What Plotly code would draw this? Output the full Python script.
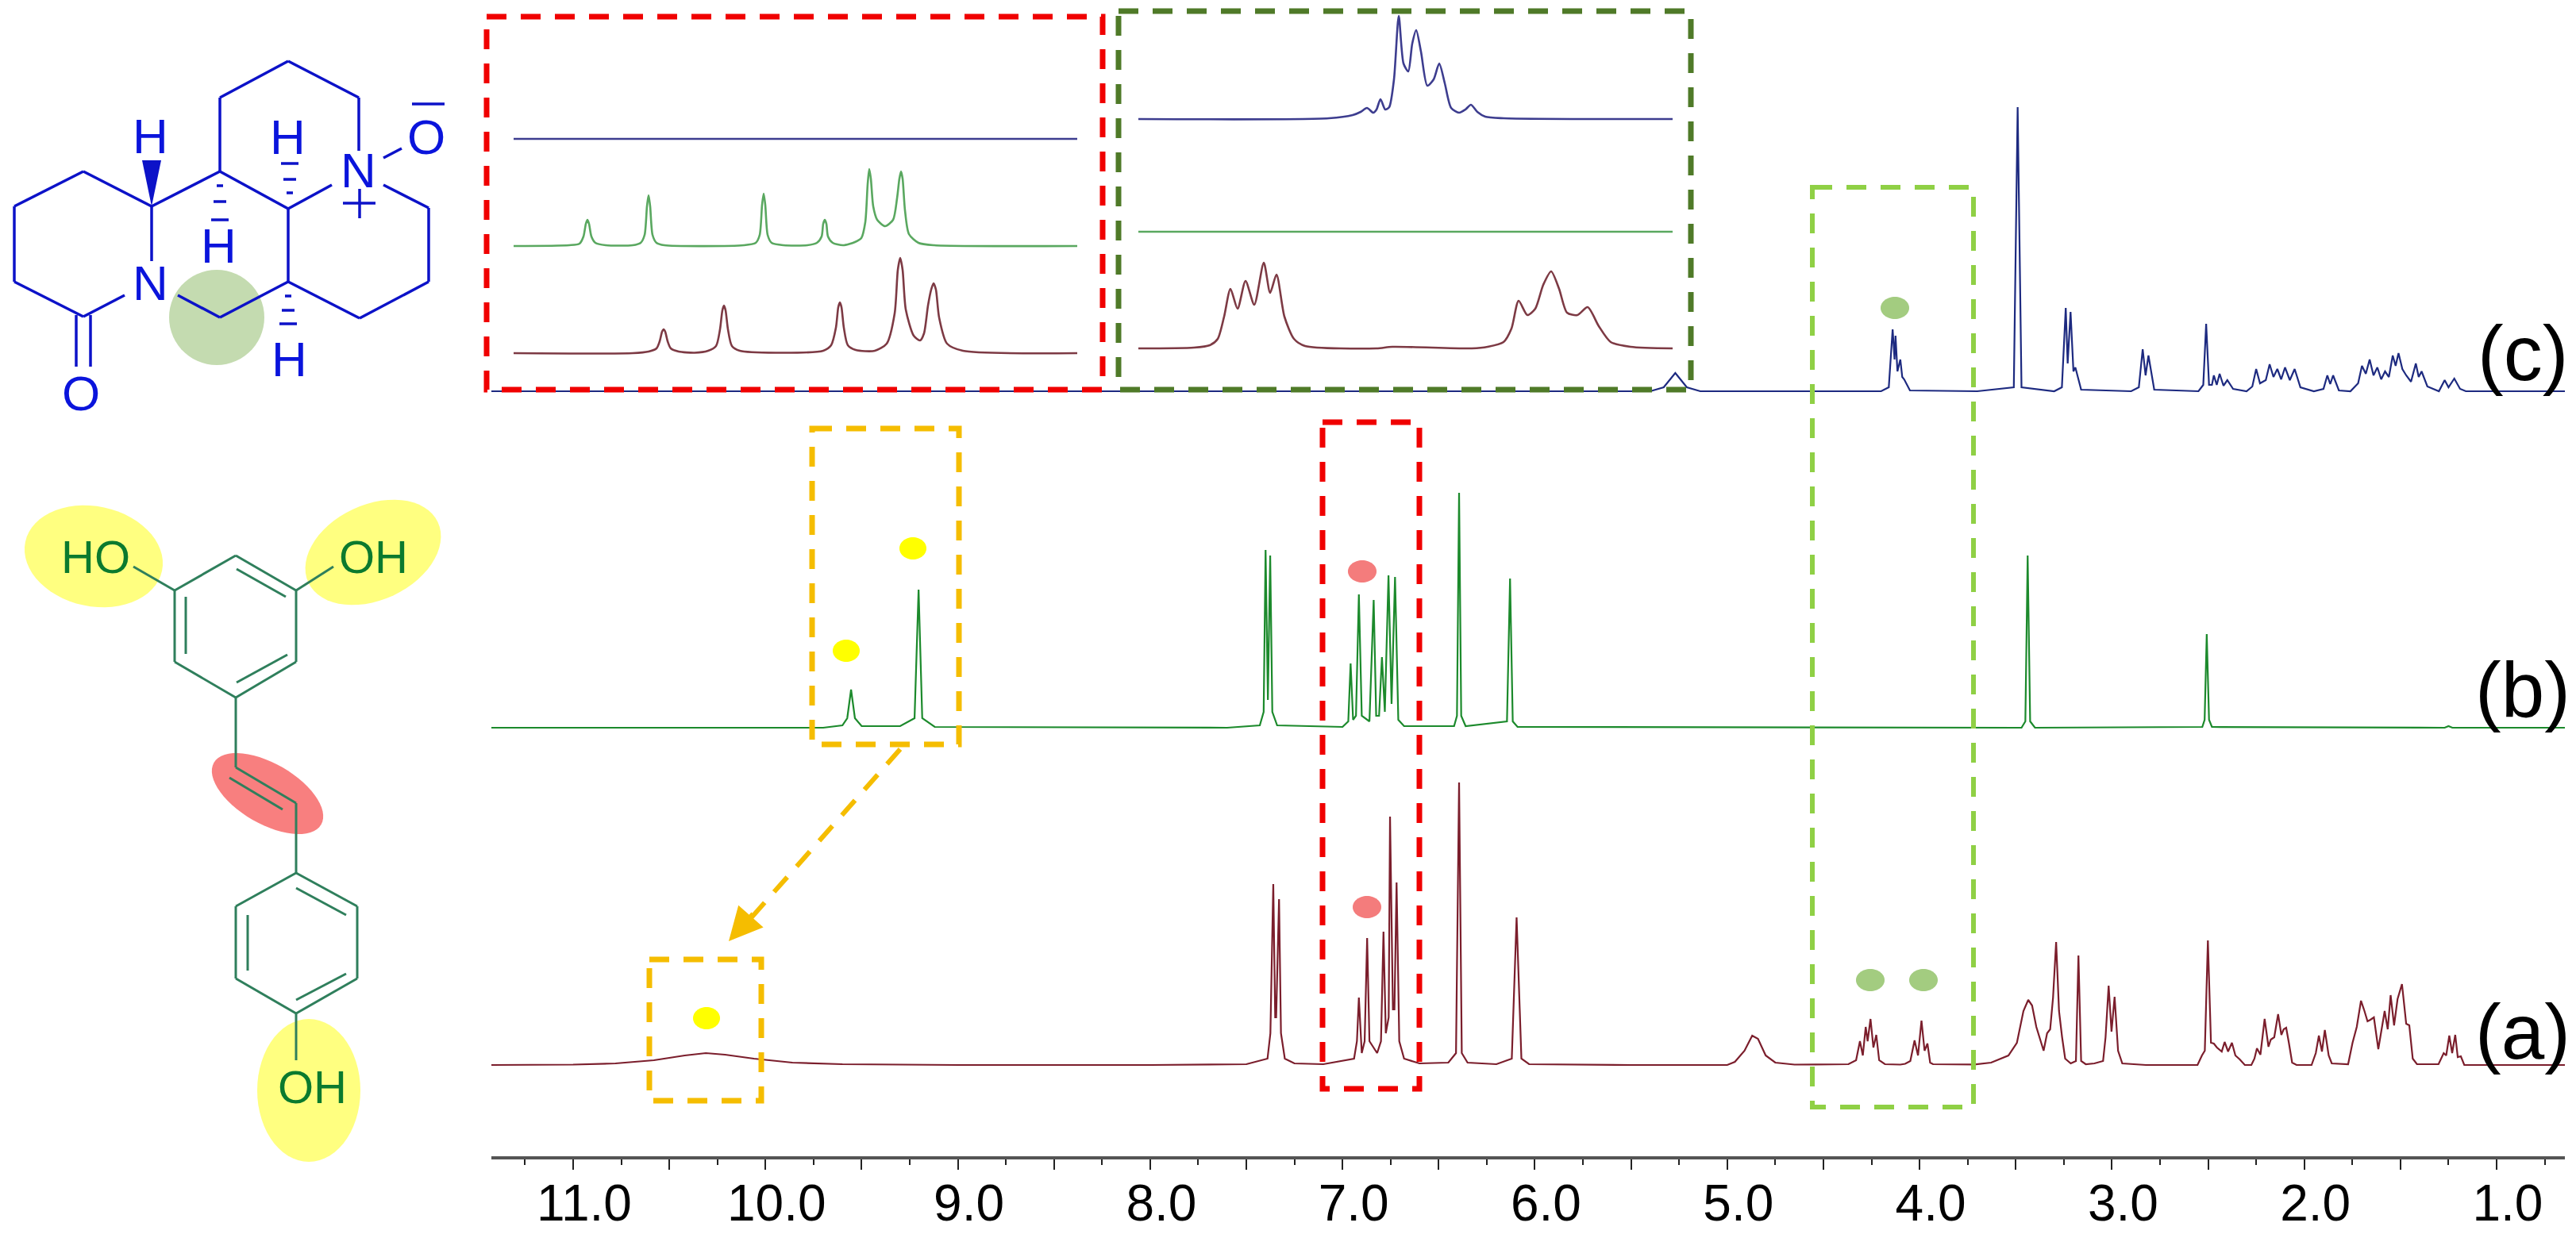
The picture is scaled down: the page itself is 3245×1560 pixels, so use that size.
import numpy as np
import plotly.graph_objects as go

W, H = 3245, 1560

# ---------- data: main spectra (ppm, intensity above own baseline) ----------
a_ppm = [11.43,11.0,10.78,10.58,10.42,10.31,10.21,10.06,9.86,9.6,9.0,8.0,7.5,
         7.39,7.375,7.36,7.35,7.345,7.33,7.32,7.30,7.25,7.1,
         6.94,6.925,6.915,6.90,6.885,6.872,6.86,6.82,6.80,6.787,6.775,6.76,6.753,6.738,6.73,6.719,6.705,6.68,6.6,6.45,
         6.41,6.394,6.38,6.35,6.2,6.12,6.095,6.07,6.03,5.5,5.0,4.96,4.91,4.87,4.84,4.80,4.75,4.65,
         4.37,4.33,4.31,4.295,4.28,4.27,4.255,4.24,4.225,4.21,4.18,4.10,
         4.075,4.048,4.026,4.008,3.990,3.974,3.959,3.945,3.930,3.715,3.628,3.538,3.494,3.460,3.435,3.415,3.393,3.355,
         3.337,3.321,3.306,3.290,3.275,3.259,3.243,3.214,3.187,3.174,3.160,3.136,3.091,3.046,3.033,3.017,3.002,2.986,
         2.968,2.946,2.823,2.555,2.532,2.517,2.501,2.485,2.470,2.454,2.429,2.414,2.396,2.376,2.358,2.335,2.309,2.275,
         2.259,2.246,2.228,2.206,2.186,2.174,2.156,2.136,2.119,2.107,2.094,2.080,2.063,2.040,1.962,1.940,1.924,1.908,
         1.893,1.873,1.857,1.772,1.749,1.727,1.705,1.687,1.671,1.656,1.638,1.615,1.582,1.566,1.551,1.533,1.515,1.492,
         1.470,1.454,1.436,1.414,1.302,1.275,1.262,1.246,1.231,1.215,1.202,1.186,1.168,0.62]
a_int = [0,0.5,2,6,12,15,13,8,3,1,0,0,1,
         8,40,228,60,60,209,40,8,2,1,
         8,30,85,15,30,160,30,15,30,168,40,60,313,70,70,230,30,8,2,3,
         15,356,15,3,1,8,186,8,1,0,0,4,18,37,33,12,3,0.5,
         1,6,30,12,48,30,58,22,38,6,1,0.5,
         1.5,5,31,12,56,18,27,3,1,0.7,3,12,28,68,82,75,48,18,
         40,45,85,155,68,35,8,2,5,138,5,1,2,5,35,100,42,86,
         18,2,0,0,12,18,157,28,27,22,17,29,17,28,12,7,0,0,
         8,21,13,58,23,32,35,64,38,45,47,28,3,0,0,15,37,17,
         44,12,2,1,28,48,81,68,55,57,60,20,68,45,88,50,83,102,
         52,50,8,1,1,15,12,37,15,38,10,11,0,0]

b_ppm = [11.43,9.7,9.6,9.575,9.555,9.535,9.50,9.3,9.225,9.204,9.185,9.12,7.6,
         7.43,7.41,7.40,7.388,7.376,7.365,7.34,7.0,6.97,6.958,6.945,6.93,6.915,6.90,6.86,6.838,6.825,6.81,6.795,6.78,
         6.761,6.745,6.727,6.71,6.68,6.42,6.405,6.394,6.383,6.36,6.145,6.129,6.115,6.09,3.47,3.45,3.438,3.425,3.4,
         2.53,2.518,2.507,2.495,2.48,1.27,1.25,1.23,0.62]
b_int = [0,0,3,12,48,12,2,2,12,174,12,1,0,
         3,20,224,35,217,20,3,1,8,81,10,15,168,15,8,161,15,15,89,20,
         192,30,190,10,2,2,15,296,15,2,8,188,8,1,0,8,217,8,0,
         1,10,118,10,1,0,2,0,0]

c_ppm = [11.43,5.40,5.33,5.29,5.27,5.25,5.21,5.14,4.2,4.16,4.14,4.13,4.125,4.115,4.10,4.09,4.08,4.05,3.7,3.51,3.49,3.47,
         3.3,3.26,3.24,3.23,3.215,3.20,3.19,3.16,2.9,2.86,2.84,2.825,2.81,2.78,2.55,2.525,2.51,2.495,2.48,2.47,2.455,2.44,
         2.42,2.40,2.37,2.30,2.27,2.25,2.23,2.20,2.18,2.16,2.14,2.12,2.10,2.075,2.05,2.02,1.95,1.90,1.88,1.865,1.85,1.82,
         1.76,1.72,1.70,1.68,1.66,1.64,1.62,1.60,1.58,1.56,1.54,1.525,1.51,1.49,1.47,1.445,1.42,1.405,1.39,1.36,1.30,
         1.27,1.25,1.22,1.19,1.16,0.62]
c_int = [0,0,5,17,23,17,5,0,0,5,78,40,70,25,40,18,15,1,0,5,358,5,
         0,5,105,35,100,25,30,2,0,5,53,20,45,2,0,8,85,8,8,20,8,22,
         7,14,3,0,6,28,10,14,34,18,28,15,30,14,28,5,0,3,20,9,20,1,
         0,10,32,22,40,20,30,15,25,18,45,32,48,28,20,12,35,18,25,6,0,
         14,5,16,3,0,0]

# ---------- data: expanded insets (offset along the inset, intensity) ----------
r_brown_x = [0,150,170,180,184,187,189,191,194,198,208,228,245,255,260,263,265,267,270,275,285,330,
             390,400,406,409,411,413,416,421,431,455,470,480,484,487,490,494,504,512,517,522,526,529,532,536,546,566,710]
r_brown_y = [0,0,2,6,15,27,30,27,15,6,2,0.5,3,9,30,54,60,54,30,9,3,0.5,
             3,10,32,58,64,58,32,10,4,3,12,50,105,120,105,55,22,16,25,60,80,88,80,45,12,3,0]
r_green_x = [0,70,83,88,91,93,95,98,103,116,150,160,165,168,170,172,175,180,190,
             290,305,310,313,315,317,320,325,340,370,382,388,390,392,394,396,402,415,
             430,438,443,446,448,450,453,458,468,478,483,486,488,490,493,498,510,530,710]
r_green_y = [0,1,3,12,28,33,28,12,4,1,1,4,14,50,64,50,14,4,1,
             1,4,14,52,66,52,14,4,1,1,4,12,28,33,28,12,4,1,
             5,10,30,78,97,85,50,33,25,33,60,85,94,85,45,15,4,1,0]
r_blue_x = [0,710]
r_blue_y = [0,0]
g_blue_x = [0,240,270,280,288,296,300,305,311,316,322,328,334,340,345,350,356,364,372,379,386,394,404,412,419,427,437,460,673]
g_blue_y = [0,1,5,9,14,8,12,25,12,15,50,130,70,60,95,112,85,42,50,70,45,14,8,12,18,9,3,1,0]
g_green_x = [0,673]
g_green_y = [0,0]
g_brown_x = [0,70,90,100,108,116,125,135,146,158,166,174,184,196,210,300,320,420,440,460,470,479,490,500,510,520,530,540,553,566,580,595,620,673]
g_brown_y = [0,1,4,12,40,75,50,85,55,108,70,93,40,12,3,0,2,0,2,8,25,60,42,50,80,97,75,45,42,52,28,8,2,0]

tick_major = [11.0,10.5,10.0,9.5,9.0,8.5,8.0,7.5,7.0,6.5,6.0,5.5,5.0,4.5,4.0,3.5,3.0,2.5,2.0,1.5,1.0]
tick_text = ["11.0","","10.0","","9.0","","8.0","","7.0","","6.0","","5.0","","4.0","","3.0","","2.0","","1.0"]
tick_minor = [11.25,10.75,10.25,9.75,9.25,8.75,8.25,7.75,7.25,6.75,6.25,5.75,5.25,4.75,4.25,3.75,3.25,2.75,2.25,1.75,1.25,0.75]
series_labels = ["(a)","(b)","(c)"]

# baselines (in the shared vertical scale)
BASE_A, BASE_B, BASE_C = 218, 643, 1067
R_BLUE, R_GREEN, R_BROWN = 1385, 1250, 1115
G_BLUE, G_GREEN, G_BROWN = 1410, 1268, 1121

C_A, C_B, C_C = "#7b1e2c", "#1c8a2c", "#1d2a80"
C_IB, C_IG, C_IR = "#3d3d8f", "#5aa860", "#7d3a44"

fig = go.Figure()
def spec(x, y, base, color, xa="x", w=2.2, smooth=False):
    ln = dict(color=color, width=w)
    if smooth:
        ln.update(shape="spline", smoothing=0.7)
    fig.add_trace(go.Scatter(x=x, y=np.array(y, float) + base, mode="lines", xaxis=xa, yaxis="y",
                             line=ln, cliponaxis=False, hoverinfo="skip", showlegend=False))
spec(a_ppm, a_int, BASE_A, C_A)
spec(b_ppm, b_int, BASE_B, C_B)
spec(c_ppm, c_int, BASE_C, C_C)
spec(r_blue_x, r_blue_y, R_BLUE, C_IB, "x2", 2.6)
spec(r_green_x, r_green_y, R_GREEN, C_IG, "x2", 2.6, True)
spec(r_brown_x, r_brown_y, R_BROWN, C_IR, "x2", 2.6, True)
spec(g_blue_x, g_blue_y, G_BLUE, C_IB, "x3", 2.6, True)
spec(g_green_x, g_green_y, G_GREEN, C_IG, "x3", 2.6)
spec(g_brown_x, g_brown_y, G_BROWN, C_IR, "x3", 2.6, True)

# ---------- helpers for decoration in page pixels ----------
px = lambda x: x / W
py = lambda y: 1 - y / H
shapes, annos = [], []
def seg(p, q, color, w=3.5, dash=None):
    ln = dict(color=color, width=w)
    if dash: ln["dash"] = dash
    shapes.append(dict(type="line", xref="paper", yref="paper", x0=px(p[0]), y0=py(p[1]), x1=px(q[0]), y1=py(q[1]), line=ln))
def poly(pts, color, w=3.5):
    for p, q in zip(pts[:-1], pts[1:]):
        seg(p, q, color, w)
def box(x0, y0, x1, y1, color, w=7):
    shapes.append(dict(type="rect", xref="paper", yref="paper", x0=px(x0), y0=py(y0), x1=px(x1), y1=py(y1),
                       line=dict(color=color, width=w, dash="25px,18px")))
def ell(cx, cy, rx, ry, deg, color, layer="below"):
    t = np.linspace(0, 2*np.pi, 61)[:-1]
    c, s = np.cos(np.radians(deg)), np.sin(np.radians(deg))
    xs = cx + rx*np.cos(t)*c - ry*np.sin(t)*s
    ys = cy + rx*np.cos(t)*s + ry*np.sin(t)*c
    path = "M " + " L ".join(f"{px(a):.5f},{py(b):.5f}" for a, b in zip(xs, ys)) + " Z"
    shapes.append(dict(type="path", xref="paper", yref="paper", path=path, fillcolor=color,
                       line=dict(width=0), layer=layer))
def txt(x, y, s, size, color):
    annos.append(dict(x=px(x), y=py(y), xref="paper", yref="paper", text=s, showarrow=False,
                      xanchor="center", yanchor="middle",
                      font=dict(family="Liberation Sans", size=size, color=color)))

# highlight blobs
ell(273, 400, 60, 60, 0, "#c4dbb0")
ell(118, 701, 88, 63, 12, "#ffff80")
ell(470, 696, 90, 60, -25, "#ffff80")
ell(337, 1000, 78, 38, 30, "#f87f7f")
ell(389, 1374, 65, 90, 0, "#ffff80")
ell(2387, 388, 18, 14, 0, "#a3cc80", "above")
ell(2356, 1235, 18, 14, 0, "#a3cc80", "above")
ell(2423, 1235, 18, 14, 0, "#a3cc80", "above")
ell(1716, 720, 18, 14, 0, "#f47c7c", "above")
ell(1722, 1143, 18, 14, 0, "#f47c7c", "above")
ell(1150, 691, 17, 14, 0, "#ffff00", "above")
ell(1066, 820, 17, 14, 0, "#ffff00", "above")
ell(890, 1283, 17, 14, 0, "#ffff00", "above")

# dashed boxes
box(613, 21, 1389, 491, "#f00000")
box(1409, 14, 2130, 491, "#4f7a28")
box(1023, 540, 1208, 938, "#f5bd00")
box(818, 1209, 959, 1387, "#f5bd00")
box(1666, 532, 1788, 1372, "#f00000")
box(2283, 236, 2486, 1395, "#8fd045", 6)

# dashed arrow
seg((1134, 944), (945, 1158), "#f5bd00", 6, "25px,18px")
annos.append(dict(x=px(918), y=py(1186), ax=32, ay=-36, xref="paper", yref="paper",
                  text="", showarrow=True, arrowhead=2, arrowsize=1.4, arrowwidth=6, arrowcolor="#f5bd00"))

# blue molecule
BLUE, BT = "#0c12c8", "#0a14dc"
poly([(191,329),(191,260),(105,216),(18,260),(18,355),(105,399),(157,372)], BLUE)
seg((96,397),(96,462), BLUE); seg((114,397),(114,462), BLUE)
poly([(191,260),(277,216),(277,123),(363,77),(452,123),(452,190)], BLUE)
poly([(277,216),(363,263),(363,355)], BLUE)
poly([(363,263),(418,233)], BLUE)
poly([(224,372),(277,400),(363,355),(453,401),(540,355),(540,262),(483,233)], BLUE)
seg((483,199),(506,187), BLUE)
seg((519,131),(560,131), BLUE)
seg((432,256),(473,256), BLUE); seg((453,238),(453,275), BLUE)
shapes.append(dict(type="path", xref="paper", yref="paper",
                   path=f"M {px(179)},{py(202)} L {px(203)},{py(202)} L {px(191)},{py(260)} Z",
                   fillcolor=BLUE, line=dict(width=0)))
for xc, yc, hw in [(277,234,4),(277,254,8),(277,277,11),(365,206,11),(365,226,8),(365,243,4),(363,373,4),(363,391,8),(363,408,11)]:
    seg((xc-hw,yc),(xc+hw,yc), BLUE, 3.5)
for x, y, s in [(189,171,"H"),(275,310,"H"),(362,172,"H"),(364,452,"H"),(189,357,"N"),(451,215,"N"),(102,495,"O"),(537,172,"O")]:
    txt(x, y, s, 62, BT)

# green molecule
GB, GT = "#2f7f5c", "#0b7a2e"
poly([(297,700),(373,744),(373,834),(297,879),(220,834),(220,744),(297,700)], GB, 3)
seg((298,717),(360,752), GB, 3)
seg((362,825),(298,860), GB, 3)
seg((234,752),(234,824), GB, 3)
poly([(373,1100),(450,1142),(450,1233),(373,1277),(297,1233),(297,1142),(373,1100)], GB, 3)
seg((373,1119),(436,1153), GB, 3)
seg((436,1227),(373,1260), GB, 3)
seg((312,1153),(312,1223), GB, 3)
seg((168,714),(220,744), GB, 3)
seg((420,714),(373,744), GB, 3)
seg((297,879),(297,967), GB, 3)
seg((297,967),(373,1012), GB, 3)
seg((289,980),(356,1020), GB, 3)
seg((373,1012),(373,1100), GB, 3)
seg((373,1277),(373,1336), GB, 3)
for x, y, s in [(120,702,"HO"),(470,702,"OH"),(393,1369,"OH")]:
    txt(x, y, s, 58, GT)

# series letters
for lab, yy in zip(series_labels, [1300, 869, 445]):
    txt(3178, yy, lab, 98, "#000000")

fig.update_layout(
    width=W, height=H, margin=dict(l=0, r=0, t=0, b=0, autoexpand=False),
    paper_bgcolor="white", plot_bgcolor="rgba(0,0,0,0)", showlegend=False,
    shapes=shapes, annotations=annos, hovermode=False,
    xaxis=dict(domain=[619/W, 3231/W], range=[11.425, 0.645], anchor="free", position=(H-1459)/H,
               automargin=False,
               showgrid=False, zeroline=False, showline=True, linecolor="#555555", linewidth=4,
               tickmode="array", tickvals=tick_major, ticktext=tick_text, ticks="outside", ticklen=13,
               tickcolor="#222222", tickwidth=1.5, ticklabelshift=-14, ticklabelstandoff=-13,
               tickfont=dict(family="Liberation Sans", size=64, color="#000000"),
               minor=dict(tickmode="array", tickvals=tick_minor, ticks="outside", ticklen=7,
                          tickcolor="#222222", tickwidth=1.5)),
    xaxis2=dict(domain=[647/W, 1357/W], range=[0, 710], visible=False, anchor="y", automargin=False),
    xaxis3=dict(domain=[1434/W, 2107/W], range=[0, 673], visible=False, anchor="y", automargin=False),
    yaxis=dict(domain=[0, 1], range=[0, H], visible=False, anchor="x", automargin=False),
)
fig.write_html("out.html", config=dict(displayModeBar=False),
               post_script="document.body.style.margin='0';document.body.style.overflow='hidden';")
